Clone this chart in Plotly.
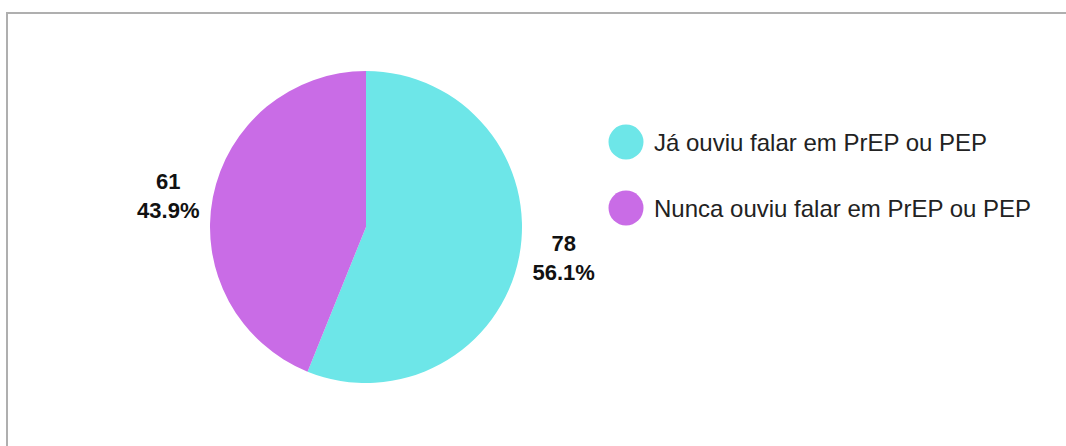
import plotly.graph_objects as go

categories = ["Já ouviu falar em PrEP ou PEP", "Nunca ouviu falar em PrEP ou PEP"]
values = [78, 61]
colors = ["#6DE6E8", "#C96CE6"]

W, H = 1066, 446
cx, cy, r = 366, 227, 156

fig = go.Figure()
fig.add_trace(go.Pie(
    labels=categories,
    values=values,
    marker=dict(colors=colors, line=dict(width=0)),
    sort=False,
    direction="clockwise",
    rotation=0,
    textposition="outside",
    texttemplate="%{value}<br>%{percent:.1%}",
    textfont=dict(family="Liberation Sans, Arial", size=22, color="#111", weight="bold"),
    showlegend=False,
    hoverinfo="label+value+percent",
    domain=dict(x=[(cx - r) / W, (cx + r) / W], y=[(H - cy - r) / H, (H - cy + r) / H]),
))

# custom legend with circle symbols
leg_x, leg_y0, leg_dy, rad = 626, 142, 66, 17.5
for i, (cat, col) in enumerate(zip(categories, colors)):
    yc = 1 - (leg_y0 + i * leg_dy) / H
    fig.add_shape(type="circle", xref="paper", yref="paper",
                  xsizemode="pixel", ysizemode="pixel",
                  xanchor=leg_x / W, yanchor=yc,
                  x0=-rad, x1=rad, y0=-rad, y1=rad,
                  fillcolor=col, line=dict(width=0))
    fig.add_annotation(x=(leg_x + 26) / W, y=yc, xref="paper", yref="paper",
                       xanchor="left", yanchor="middle", showarrow=False,
                       text=cat, font=dict(family="Liberation Sans, Arial", size=24, color="#222"))

# outer border (clipped on right/bottom like the reference)
fig.add_shape(type="rect", xref="paper", yref="paper",
              x0=7 / W, x1=1.05, y0=-0.1, y1=1 - 13 / H,
              line=dict(color="#AFAFAF", width=2), fillcolor="rgba(0,0,0,0)")

fig.update_layout(
    width=W, height=H,
    margin=dict(l=0, r=0, t=0, b=0),
    paper_bgcolor="white", plot_bgcolor="white",
)
fig.write_html("out.html", config={"displayModeBar": False},
               post_script="document.body.style.margin='0';")
